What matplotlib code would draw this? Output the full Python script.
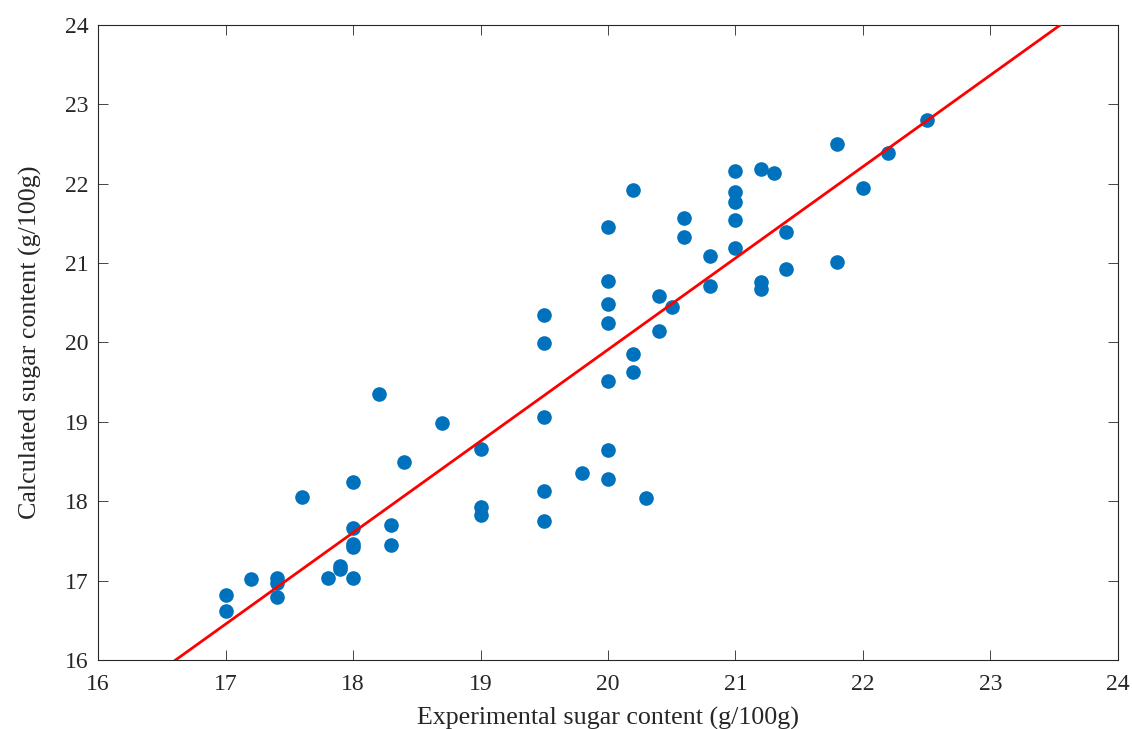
import matplotlib
matplotlib.use('Agg')
import matplotlib.pyplot as plt
import numpy as np

plt.rcParams['font.family'] = ['Liberation Serif', 'DejaVu Serif']

# experimental vs calculated sugar content (g/100g)
exp_vals = [17.0, 17.0, 17.2, 17.4, 17.4, 17.4, 17.6, 17.8, 17.9, 17.9,
            18.0, 18.0, 18.0, 18.0, 18.0, 18.2, 18.3, 18.3, 18.4, 18.7,
            19.0, 19.0, 19.0, 19.5, 19.5, 19.5, 19.5, 19.5, 19.8,
            20.0, 20.0, 20.0, 20.0, 20.0, 20.0, 20.0,
            20.2, 20.2, 20.2, 20.3, 20.4, 20.4, 20.5, 20.6, 20.6, 20.8, 20.8,
            21.0, 21.0, 21.0, 21.0, 21.0, 21.2, 21.2, 21.2, 21.3, 21.4, 21.4,
            21.8, 21.8, 22.0, 22.2, 22.5]
calc_vals = [16.82, 16.62, 17.02, 17.03, 16.97, 16.79, 18.05, 17.03, 17.18, 17.15,
             18.24, 17.66, 17.46, 17.42, 17.03, 19.35, 17.70, 17.45, 18.49, 18.98,
             18.66, 17.93, 17.83, 20.34, 19.99, 19.06, 18.13, 17.75, 18.35,
             21.46, 20.77, 20.48, 20.25, 19.52, 18.65, 18.28,
             21.92, 19.86, 19.63, 18.04, 20.59, 20.15, 20.45, 21.57, 21.33, 21.09, 20.71,
             22.16, 21.89, 21.77, 21.54, 21.19, 22.19, 20.76, 20.67, 22.13, 21.39, 20.93,
             22.50, 21.02, 21.95, 22.39, 22.80]

# fitted line: calc = slope * exp + intercept
slope = 1.153
intercept = -3.15

axis_col = '#262626'

fig = plt.figure(figsize=(11.32, 7.29), dpi=100)
ax = fig.add_axes([0.0866, 0.0947, 0.901, 0.871])

ax.plot(exp_vals, calc_vals, 'o', color='#0072BD', markersize=9.5, zorder=2)
xl = np.array([16, 24])
ax.plot(xl, slope * xl + intercept, color='red', linewidth=2, zorder=3)

ax.set_xlim(16, 24)
ax.set_ylim(16, 24)
ax.set_xticks(range(16, 25))
ax.set_yticks(range(16, 25))
ax.tick_params(direction='in', top=True, right=True, labelsize=17, length=7,
               width=0.6, color=axis_col, labelcolor=axis_col)
ax.tick_params(axis='x', pad=10)
ax.tick_params(axis='y', pad=7)
for s in ax.spines.values():
    s.set_linewidth(0.8)
    s.set_color(axis_col)
ax.set_xlabel('Experimental sugar content (g/100g)', fontsize=18.7, labelpad=9,
              color=axis_col)
ax.set_ylabel('Calculated sugar content (g/100g)', fontsize=18.7, labelpad=16,
              color=axis_col)

fig.savefig('out.png', dpi=100)
